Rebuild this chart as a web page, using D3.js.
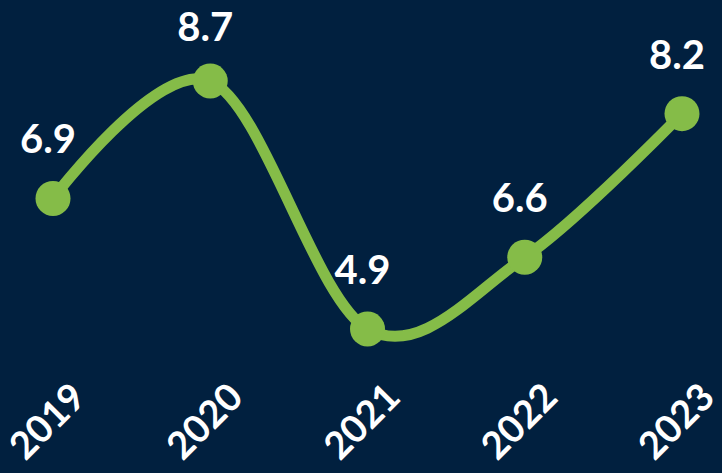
<!DOCTYPE html>
<html>
<head>
<meta charset="utf-8">
<script src="https://cdn.jsdelivr.net/npm/d3@7/dist/d3.min.js"></script>
<style>
  html, body { margin: 0; padding: 0; background: #01203f; }
  svg { display: block; }
  text { font-family: Lato, "Open Sans", sans-serif; font-weight: 700; fill: #ffffff; }
</style>
</head>
<body>
<svg id="chart" width="722" height="473"></svg>
<script>
// Data
const categories = ["2019", "2020", "2021", "2022", "2023"];
const values = [6.9, 8.7, 4.9, 6.0, 8.2];          // plotted positions
const valueLabels = ["6.9", "8.7", "4.9", "6.6", "8.2"]; // printed data labels

const W = 722, H = 473;
const svg = d3.select("#chart");
svg.append("rect").attr("width", W).attr("height", H).attr("fill", "#01203f");

const x = d3.scalePoint().domain(categories).range([53, 682]);
const y = d3.scaleLinear().domain([4.9, 8.7]).range([329, 81]);

const data = categories.map((c, i) => ({ c, v: values[i], label: valueLabels[i] }));

const line = d3.line()
  .x(d => x(d.c))
  .y(d => y(d.v))
  .curve(d3.curveCardinal.tension(0));

svg.append("path")
  .datum(data)
  .attr("d", line)
  .attr("fill", "none")
  .attr("stroke", "#85bc48")
  .attr("stroke-width", 11)
  .attr("stroke-linecap", "round");

svg.selectAll("circle.pt")
  .data(data)
  .enter().append("circle")
  .attr("class", "pt")
  .attr("cx", d => x(d.c))
  .attr("cy", d => y(d.v))
  .attr("r", 17.5)
  .attr("fill", "#85bc48");

svg.selectAll("text.val")
  .data(data)
  .enter().append("text")
  .attr("class", "val")
  .attr("x", d => x(d.c) - 5)
  .attr("y", d => Math.max(y(d.v) - 45, 41))
  .attr("text-anchor", "middle")
  .attr("font-size", 40)
  .text(d => d.label);

// x axis labels (rotated -45)
const xAxis = d3.axisBottom(x).tickSize(0).tickPadding(0);
const gx = svg.append("g").call(xAxis);
gx.select(".domain").remove();
gx.selectAll(".tick").attr("transform", d => `translate(${x(d) - 6},421)`);
gx.selectAll(".tick text")
  .attr("x", 0).attr("y", 0).attr("dy", "0.36em")
  .attr("fill", "#ffffff")
  .attr("font-size", 38)
  .attr("font-family", "Lato, 'Open Sans', sans-serif")
  .attr("font-weight", 700)
  .attr("text-anchor", "middle")
  .attr("transform", "rotate(-45)");
</script>
</body>
</html>
